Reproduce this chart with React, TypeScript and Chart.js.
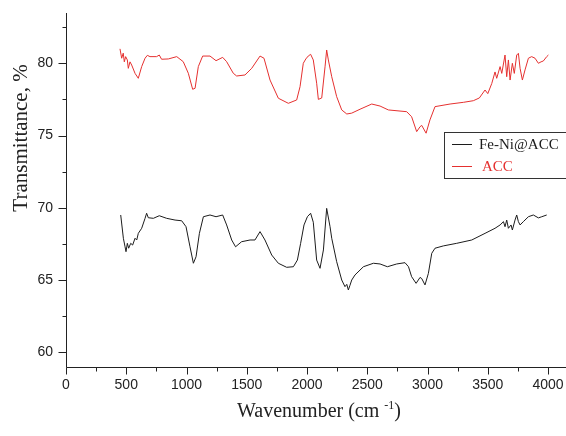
import React, { useEffect, useRef } from 'react';
import { Chart, registerables } from 'chart.js';

Chart.register(...registerables);

// ACC (red) spectrum
const accWavenumber = [448, 462, 475, 484, 495, 509, 517, 531, 545, 573, 600, 628, 656, 675, 697, 752, 774, 793, 849, 919, 973, 1015, 1051, 1071, 1098, 1134, 1195, 1245, 1300, 1333, 1388, 1416, 1485, 1541, 1610, 1643, 1693, 1762, 1845, 1914, 1942, 1969, 1990, 2010, 2030, 2052, 2080, 2094, 2122, 2150, 2163, 2177, 2205, 2246, 2288, 2330, 2371, 2440, 2537, 2606, 2675, 2827, 2868, 2910, 2938, 2952, 2988, 3020, 3062, 3187, 3300, 3380, 3430, 3477, 3500, 3533, 3560, 3574, 3602, 3616, 3643, 3657, 3671, 3685, 3704, 3720, 3740, 3754, 3768, 3787, 3809, 3837, 3864, 3892, 3920, 3942, 3961, 3989, 4003];
const accTransmittance = [81.0, 80.35, 80.7, 80.1, 80.46, 80.23, 79.65, 80.1, 79.88, 79.3, 78.96, 79.77, 80.35, 80.55, 80.46, 80.46, 80.57, 80.28, 80.3, 80.46, 80.11, 79.31, 78.2, 78.27, 79.77, 80.5, 80.5, 80.18, 80.41, 80.11, 79.31, 79.12, 79.19, 79.65, 80.5, 80.35, 78.84, 77.58, 77.23, 77.46, 78.38, 80.0, 80.3, 80.5, 80.62, 80.23, 78.62, 77.5, 77.6, 79.8, 80.92, 80.23, 79.07, 77.69, 76.77, 76.49, 76.55, 76.82, 77.18, 77.04, 76.77, 76.65, 76.3, 75.27, 75.61, 75.7, 75.16, 76.08, 77.0, 77.18, 77.3, 77.41, 77.6, 78.15, 77.9, 78.6, 79.4, 78.96, 79.77, 79.3, 80.57, 79.07, 80.23, 78.84, 80.0, 79.3, 80.57, 80.69, 79.65, 78.84, 79.54, 80.35, 80.46, 80.35, 80.0, 80.1, 80.16, 80.46, 80.57];

// Fe-Ni@ACC (black) spectrum
const feNiWavenumber = [454, 476, 490, 498, 509, 520, 537, 553, 573, 587, 600, 628, 656, 669, 683, 725, 774, 835, 905, 960, 996, 1029, 1057, 1079, 1107, 1140, 1195, 1245, 1300, 1333, 1375, 1407, 1457, 1527, 1568, 1610, 1651, 1707, 1762, 1831, 1887, 1920, 1947, 1975, 2003, 2030, 2052, 2080, 2108, 2136, 2163, 2191, 2205, 2246, 2288, 2315, 2330, 2343, 2355, 2371, 2398, 2468, 2551, 2606, 2667, 2744, 2813, 2842, 2868, 2905, 2938, 2952, 2979, 3007, 3035, 3062, 3131, 3242, 3367, 3477, 3560, 3602, 3630, 3643, 3657, 3671, 3693, 3704, 3726, 3740, 3754, 3768, 3795, 3837, 3878, 3920, 3948, 3989];
const feNiTransmittance = [69.5, 67.89, 67.3, 66.96, 67.54, 67.2, 67.54, 67.42, 67.89, 67.77, 68.23, 68.58, 69.27, 69.62, 69.31, 69.27, 69.45, 69.27, 69.15, 69.1, 68.69, 67.3, 66.16, 66.61, 68.23, 69.38, 69.5, 69.38, 69.5, 68.81, 67.77, 67.3, 67.65, 67.77, 67.77, 68.35, 67.77, 66.73, 66.16, 65.88, 65.92, 66.38, 67.54, 68.81, 69.38, 69.62, 69.0, 66.38, 65.81, 67.08, 69.96, 68.69, 67.89, 66.27, 65.0, 64.54, 64.7, 64.31, 64.6, 65.0, 65.35, 65.92, 66.16, 66.11, 65.92, 66.11, 66.2, 65.92, 65.23, 64.77, 65.18, 65.1, 64.66, 65.46, 66.85, 67.2, 67.36, 67.54, 67.77, 68.23, 68.58, 68.81, 69.04, 68.69, 69.15, 68.58, 68.81, 68.46, 69.15, 69.5, 69.04, 68.81, 69.04, 69.38, 69.5, 69.3, 69.38, 69.5];

const xTickValues = [0, 500, 1000, 1500, 2000, 2500, 3000, 3500, 4000];
const xMinorTickValues = [250, 750, 1250, 1750, 2250, 2750, 3250, 3750];
const yTickValues = [60, 65, 70, 75, 80];
const yMinorTickValues = [62.5, 67.5, 72.5, 77.5, 82.5];

const seriesNames = ['Fe-Ni@ACC', 'ACC'];
const yAxisTitle = 'Transmittance, %';
const xAxisTitleMain = 'Wavenumber (cm ';
const xAxisTitleSup = '-1';
const xAxisTitleEnd = ')';

const RED = '#e5302f';
const BLACK = '#1c1c1c';
const AXIS = '#222222';
const SERIF = '"Liberation Serif", "Times New Roman", serif';
const SANS = '"Liberation Sans", Arial, sans-serif';

const decorPlugin = {
  id: 'decor',
  afterDraw(chart: any) {
    const { ctx, chartArea: ca, scales } = chart;
    const xs = scales.x;
    const ys = scales.y;
    ctx.save();
    ctx.strokeStyle = AXIS;
    ctx.lineWidth = 1;
    const left = Math.round(ca.left) + 0.5;
    const bottom = Math.round(ca.bottom) + 0.5;
    ctx.beginPath();
    ctx.moveTo(left, ca.top);
    ctx.lineTo(left, bottom);
    ctx.lineTo(ca.right, bottom);
    ctx.stroke();
    ctx.beginPath();
    xTickValues.forEach((v) => {
      const px = Math.round(xs.getPixelForValue(v)) + 0.5;
      ctx.moveTo(px, bottom);
      ctx.lineTo(px, bottom + 7);
    });
    xMinorTickValues.forEach((v) => {
      const px = Math.round(xs.getPixelForValue(v)) + 0.5;
      ctx.moveTo(px, bottom);
      ctx.lineTo(px, bottom + 4);
    });
    yTickValues.forEach((v) => {
      const py = Math.round(ys.getPixelForValue(v)) + 0.5;
      ctx.moveTo(left, py);
      ctx.lineTo(left - 8, py);
    });
    yMinorTickValues.forEach((v) => {
      const py = Math.round(ys.getPixelForValue(v)) + 0.5;
      ctx.moveTo(left, py);
      ctx.lineTo(left - 4, py);
    });
    ctx.stroke();

    // y axis title
    ctx.fillStyle = AXIS;
    ctx.font = `21px ${SERIF}`;
    ctx.textAlign = 'center';
    ctx.textBaseline = 'middle';
    ctx.save();
    ctx.translate(21, 138);
    ctx.rotate(-Math.PI / 2);
    ctx.fillText(yAxisTitle, 0, 0);
    ctx.restore();

    // x axis title with superscript
    ctx.textAlign = 'left';
    ctx.textBaseline = 'alphabetic';
    ctx.font = `20px ${SERIF}`;
    const w1 = ctx.measureText(xAxisTitleMain).width;
    const w3 = ctx.measureText(xAxisTitleEnd).width;
    ctx.font = `12px ${SERIF}`;
    const w2 = ctx.measureText(xAxisTitleSup).width;
    const total = w1 + w2 + w3;
    const cx = 319;
    const base = 417;
    let sx = cx - total / 2;
    ctx.font = `20px ${SERIF}`;
    ctx.fillText(xAxisTitleMain, sx, base);
    sx += w1;
    ctx.font = `12px ${SERIF}`;
    ctx.fillText(xAxisTitleSup, sx, base - 8);
    sx += w2;
    ctx.font = `20px ${SERIF}`;
    ctx.fillText(xAxisTitleEnd, sx, base);

    // legend
    ctx.strokeStyle = '#333';
    ctx.lineWidth = 1;
    ctx.strokeRect(444.5, 132.5, 160, 46);
    const colors = [BLACK, RED];
    const rows = [144.5, 166.5];
    ctx.font = `15px ${SERIF}`;
    ctx.textBaseline = 'middle';
    seriesNames.forEach((name, i) => {
      ctx.strokeStyle = colors[i];
      ctx.beginPath();
      ctx.moveTo(452, rows[i]);
      ctx.lineTo(472, rows[i]);
      ctx.stroke();
      ctx.fillStyle = colors[i];
      ctx.fillText(name, i === 0 ? 479 : 482, rows[i] + 1);
    });
    ctx.restore();
  },
};

export default function App() {
  const ref = useRef<HTMLCanvasElement | null>(null);
  useEffect(() => {
    document.body.style.margin = '0';
    const canvas = ref.current;
    if (!canvas) return;
    const chart = new Chart(canvas, {
      type: 'line',
      data: {
        datasets: [
          {
            label: seriesNames[0],
            data: feNiWavenumber.map((x, i) => ({ x, y: feNiTransmittance[i] })),
            borderColor: BLACK,
            borderWidth: 1,
            pointRadius: 0,
            tension: 0,
          },
          {
            label: seriesNames[1],
            data: accWavenumber.map((x, i) => ({ x, y: accTransmittance[i] })),
            borderColor: RED,
            borderWidth: 1,
            pointRadius: 0,
            tension: 0,
          },
        ],
      },
      options: {
        animation: false,
        responsive: false,
        devicePixelRatio: 1,
        layout: { padding: { top: 13, right: 0, left: 0, bottom: 0 } },
        plugins: { legend: { display: false }, tooltip: { enabled: false } },
        scales: {
          x: {
            type: 'linear',
            min: 0,
            max: 4149,
            grid: { display: false, drawTicks: false },
            border: { display: false },
            afterBuildTicks: (s: any) => {
              s.ticks = xTickValues.map((value) => ({ value }));
            },
            afterFit: (s: any) => {
              s.height = 69;
              s.paddingLeft = 0;
              s.paddingRight = 0;
            },
            ticks: {
              autoSkip: false,
              maxRotation: 0,
              padding: 10,
              color: AXIS,
              font: { family: SANS, size: 14 },
              callback: (v: any) => String(v),
            },
          },
          y: {
            type: 'linear',
            min: 58.98,
            max: 83.48,
            grid: { display: false, drawTicks: false },
            border: { display: false },
            afterBuildTicks: (s: any) => {
              s.ticks = yTickValues.map((value) => ({ value }));
            },
            afterFit: (s: any) => {
              s.width = 66;
              s.paddingTop = 0;
              s.paddingBottom = 0;
            },
            ticks: {
              autoSkip: false,
              padding: 13,
              color: AXIS,
              font: { family: SANS, size: 14 },
              callback: (v: any) => String(v),
            },
          },
        },
      },
      plugins: [decorPlugin],
    } as any);
    return () => chart.destroy();
  }, []);
  return (
    <div style={{ width: 566, height: 436, background: '#fff' }}>
      <canvas ref={ref} width={566} height={436} style={{ display: 'block' }} />
    </div>
  );
}
